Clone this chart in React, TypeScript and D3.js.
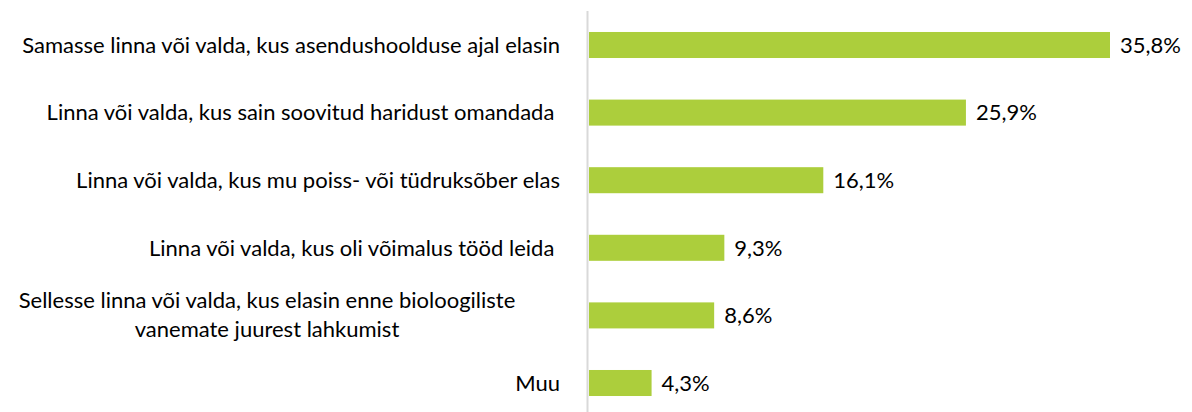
import React, { useEffect } from "react";
import * as d3 from "d3";

// categories (line breaks as in the source chart)
const categories: string[][] = [
  ["Samasse linna või valda, kus asendushoolduse ajal elasin"],
  ["Linna või valda, kus sain soovitud haridust omandada "],
  ["Linna või valda, kus mu poiss- või tüdruksõber elas"],
  ["Linna või valda, kus oli võimalus tööd leida "],
  ["Sellesse linna või valda, kus elasin enne bioloogiliste", "vanemate juurest lahkumist"],
  ["Muu"],
];
const values: number[] = [35.8, 25.9, 16.1, 9.3, 8.6, 4.3];

const width = 1192;
const height = 412;
const font = "Lato, 'Open Sans', sans-serif";
const fontSize = 22;
const barColor = "#acce3c";

export default function App() {
  useEffect(() => {
    document.body.style.margin = "0";
  }, []);

  const x = d3.scaleLinear().domain([0, 35.8]).range([589, 1110]);
  const y = d3
    .scaleBand<number>()
    .domain(d3.range(values.length))
    .range([11.2, 416.8])
    .paddingInner(0.615)
    .paddingOuter(0.3075);

  const fmt = (v: number) => v.toFixed(1).replace(".", ",") + "%";

  return (
    <svg width={width} height={height} style={{ display: "block", background: "#fff" }}>
      {values.map((v, i) => (
        <rect
          key={"b" + i}
          x={x(0)}
          y={y(i)!}
          width={x(v) - x(0)}
          height={y.bandwidth()}
          fill={barColor}
        />
      ))}
      <line x1={587.5} x2={587.5} y1={11} y2={height} stroke="#d9d9d9" strokeWidth={2} />
      {values.map((v, i) => (
        <text
          key={"v" + i}
          x={x(v) + 10}
          y={y(i)! + y.bandwidth() / 2}
          dy="0.35em"
          fontFamily={font}
          fontSize={fontSize}
          fill="#000"
        >
          {fmt(v)}
        </text>
      ))}
      {categories.map((lines, i) => {
        const cy = y(i)! + y.bandwidth() / 2;
        if (lines.length === 1) {
          return (
            <text
              key={"c" + i}
              x={560}
              y={cy}
              dy="0.35em"
              textAnchor="end"
              fontFamily={font}
              fontSize={fontSize}
              fill="#000"
              style={{ whiteSpace: "pre" }}
            >
              {lines[0]}
            </text>
          );
        }
        return (
          <text
            key={"c" + i}
            x={267}
            y={cy}
            textAnchor="middle"
            fontFamily={font}
            fontSize={fontSize}
            fill="#000"
          >
            {lines.map((l, j) => (
              <tspan key={j} x={267} dy={j === 0 ? -7 : 29}>
                {l}
              </tspan>
            ))}
          </text>
        );
      })}
    </svg>
  );
}
